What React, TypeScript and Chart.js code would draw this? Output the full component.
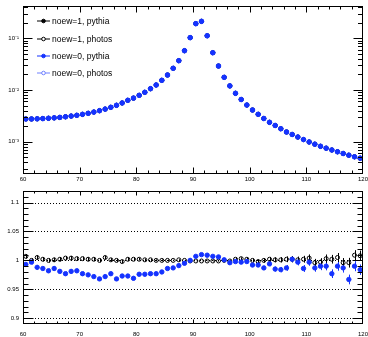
import React, { useEffect, useRef } from "react";
import { Chart, registerables } from "chart.js";

Chart.register(...registerables);

// ---------- data ----------
const massBins = [
  60.5, 61.5, 62.5, 63.5, 64.5, 65.5, 66.5, 67.5, 68.5, 69.5,
  70.5, 71.5, 72.5, 73.5, 74.5, 75.5, 76.5, 77.5, 78.5, 79.5,
  80.5, 81.5, 82.5, 83.5, 84.5, 85.5, 86.5, 87.5, 88.5, 89.5,
  90.5, 91.5, 92.5, 93.5, 94.5, 95.5, 96.5, 97.5, 98.5, 99.5,
  100.5, 101.5, 102.5, 103.5, 104.5, 105.5, 106.5, 107.5, 108.5, 109.5,
  110.5, 111.5, 112.5, 113.5, 114.5, 115.5, 116.5, 117.5, 118.5, 119.5,
];

// normalised mass spectrum (all four samples overlap on the log scale)
const massSpectrum = [
  0.00275, 0.00275, 0.00277, 0.0028, 0.00284, 0.00289, 0.00295, 0.00303, 0.00313, 0.00324,
  0.00338, 0.00354, 0.00374, 0.00398, 0.00427, 0.00463, 0.00506, 0.00561, 0.00632, 0.00697,
  0.00789, 0.00903, 0.0106, 0.0125, 0.0154, 0.0195, 0.0263, 0.0369, 0.0576, 0.103,
  0.192, 0.213, 0.112, 0.0526, 0.0291, 0.0176, 0.012, 0.00863, 0.00655, 0.00512,
  0.0041, 0.00339, 0.00281, 0.00237, 0.00206, 0.00178, 0.00154, 0.00138, 0.00123, 0.0011,
  0.000987, 0.000895, 0.000815, 0.000749, 0.000691, 0.000638, 0.000591, 0.000548, 0.00051, 0.00048,
];

// ratio panel
const ratioNoew1Photos = [
  1.007, 1.0, 1.005, 1.002, 1.0, 1.001, 1.002, 1.004, 1.004, 1.003,
  1.003, 1.002, 1.002, 1.0, 1.005, 1.001, 1.0, 0.998, 1.002, 1.002,
  1.002, 1.001, 1.001, 1.0, 1.0, 1.0, 1.0, 1.001, 1.0, 0.999,
  0.999, 0.999, 0.999, 0.999, 0.999, 1.0, 0.999, 1.002, 1.003, 1.002,
  1.0, 0.998, 1.0, 1.002, 1.001, 1.001, 1.002, 1.002, 1.001, 1.002,
  1.004, 0.996, 0.997, 1.003, 1.002, 1.005, 0.996, 0.996, 1.009, 1.008,
];

const ratioNoew0Pythia = [
  0.993, 0.997, 0.988, 0.986, 0.982, 0.986, 0.981, 0.977, 0.981, 0.982,
  0.977, 0.975, 0.972, 0.968, 0.972, 0.977, 0.968, 0.973, 0.973, 0.969,
  0.976, 0.976, 0.977, 0.977, 0.98, 0.986, 0.987, 0.991, 0.995, 1.0,
  1.007, 1.01, 1.009, 1.007, 1.006, 1.001, 0.996, 0.998, 0.997, 0.998,
  0.992, 0.992, 0.987, 0.994, 0.985, 0.984, 0.987, 1.002, 0.997, 0.986,
  0.997, 0.987, 0.99, 0.99, 0.977, 0.99, 0.987, 0.967, 0.99, 0.984,
];

const ratioErrors = [
  0.0038, 0.0038, 0.0038, 0.0037, 0.0037, 0.0037, 0.0036, 0.0036, 0.0035, 0.0035,
  0.0034, 0.0033, 0.0032, 0.0031, 0.003, 0.0029, 0.0028, 0.0026, 0.0025, 0.0024,
  0.0022, 0.0021, 0.0019, 0.0017, 0.0016, 0.0014, 0.0012, 0.001, 0.0008, 0.0006,
  0.0004, 0.0004, 0.0006, 0.0008, 0.0011, 0.0015, 0.0018, 0.0021, 0.0024, 0.0027,
  0.0031, 0.0034, 0.0037, 0.004, 0.0043, 0.0046, 0.005, 0.0053, 0.0056, 0.0059,
  0.0063, 0.0066, 0.0069, 0.0072, 0.0075, 0.0078, 0.0081, 0.0084, 0.0087, 0.009,
];

const xTickValues = [60, 70, 80, 90, 100, 110, 120];
const logTickValues = [0.001, 0.01, 0.1];
const logTickLabels = ["10\u207B\u00B3", "10\u207B\u00B2", "10\u207B\u00B9"];
const ratioTickValues = [0.9, 0.95, 1, 1.05, 1.1];
const ratioTickLabels = ["0.9", "0.95", "1", "1.05", "1.1"];

const legendEntries = [
  { label: "noew=1, pythia", color: "#000000", filled: true },
  { label: "noew=1, photos", color: "#000000", filled: false },
  { label: "noew=0, pythia", color: "#1432ff", filled: true },
  { label: "noew=0, photos", color: "#6f80ff", filled: false },
];

// ---------- styling ----------
const BLUE = "#1432ff";
const LIGHT_BLUE = "#6f80ff";
const FONT = "'Liberation Sans', Arial, Helvetica, sans-serif";

const pts = (ys: number[]) => massBins.map((x, i) => ({ x, y: ys[i] }));

function range(a: number, b: number, step: number) {
  const out: number[] = [];
  for (let v = a; v <= b + 1e-9; v += step) out.push(Math.round(v * 1e6) / 1e6);
  return out;
}

type FrameCfg = {
  xMajor: number[];
  xMinor: number[];
  yMajor: number[];
  yMinor: number[];
  xMajLen: number;
  xMinLen: number;
  yMajLen: number;
  yMinLen: number;
  grid?: number[];
};

function framePlugin(cfg: FrameCfg) {
  return {
    id: "rootFrame",
    beforeDatasetsDraw(chart: any) {
      const { ctx, chartArea: a, scales } = chart;
      ctx.save();
      if (cfg.grid) {
        ctx.strokeStyle = "#000";
        ctx.lineWidth = 1;
        ctx.setLineDash([1, 2]);
        for (const v of cfg.grid) {
          const py = Math.round(scales.y.getPixelForValue(v)) + 0.5;
          ctx.beginPath();
          ctx.moveTo(a.left, py);
          ctx.lineTo(a.right, py);
          ctx.stroke();
        }
        ctx.setLineDash([]);
      }
      ctx.beginPath();
      ctx.rect(a.left, a.top, a.right - a.left, a.bottom - a.top);
      ctx.clip();
      chart.data.datasets.forEach((ds: any) => {
        if (!ds.errorBars) return;
        ctx.strokeStyle = ds.borderColor;
        ctx.lineWidth = 1;
        ds.data.forEach((p: any, i: number) => {
          const e = ds.errorBars[i];
          const px = Math.round(scales.x.getPixelForValue(p.x)) + 0.5;
          const y1 = scales.y.getPixelForValue(p.y - e);
          const y2 = scales.y.getPixelForValue(p.y + e);
          ctx.beginPath();
          ctx.moveTo(px, y1);
          ctx.lineTo(px, y2);
          ctx.stroke();
        });
      });
      ctx.restore();
    },
    afterDraw(chart: any) {
      const { ctx, chartArea: a, scales } = chart;
      ctx.save();
      ctx.strokeStyle = "#000";
      ctx.lineWidth = 1;
      const L = Math.round(a.left) + 0.5;
      const R = Math.round(a.right) - 0.5;
      const T = Math.round(a.top) + 0.5;
      const B = Math.round(a.bottom) - 0.5;
      const line = (x1: number, y1: number, x2: number, y2: number) => {
        ctx.beginPath();
        ctx.moveTo(x1, y1);
        ctx.lineTo(x2, y2);
        ctx.stroke();
      };
      const xTick = (v: number, len: number) => {
        const px = Math.round(scales.x.getPixelForValue(v)) + 0.5;
        if (px < L - 0.1 || px > R + 0.1) return;
        line(px, B, px, B - len);
        line(px, T, px, T + len);
      };
      const yTick = (v: number, len: number) => {
        const py = Math.round(scales.y.getPixelForValue(v)) + 0.5;
        if (py < T - 0.1 || py > B + 0.1) return;
        line(L, py, L + len, py);
        line(R, py, R - len, py);
      };
      cfg.xMinor.forEach((v) => xTick(v, cfg.xMinLen));
      cfg.xMajor.forEach((v) => xTick(v, cfg.xMajLen));
      cfg.yMinor.forEach((v) => yTick(v, cfg.yMinLen));
      cfg.yMajor.forEach((v) => yTick(v, cfg.yMajLen));
      ctx.strokeRect(L, T, R - L, B - T);
      ctx.restore();
    },
  };
}

const noPad = (s: any) => {
  s.paddingLeft = 0;
  s.paddingRight = 0;
  s.paddingTop = 0;
  s.paddingBottom = 0;
};

export default function App() {
  const topRef = useRef<HTMLCanvasElement>(null);
  const botRef = useRef<HTMLCanvasElement>(null);

  useEffect(() => {
    Chart.defaults.font.family = FONT;
    Chart.defaults.font.size = 6;
    Chart.defaults.color = "#000";

    const xMinor = range(60, 120, 2);
    const logMinor: number[] = [];
    for (let e = -4; e <= -1; e++) {
      for (let k = 2; k <= 9; k++) logMinor.push(k * Math.pow(10, e));
    }

    const top = new Chart(topRef.current as HTMLCanvasElement, {
      type: "scatter",
      data: {
        datasets: [
          {
            label: "noew=0, pythia",
            data: pts(massSpectrum),
            backgroundColor: BLUE,
            borderColor: BLUE,
            borderWidth: 1,
            pointRadius: 2.3,
            order: 0,
          },
          {
            label: "noew=0, photos",
            data: pts(massSpectrum),
            backgroundColor: "rgba(0,0,0,0)",
            borderColor: LIGHT_BLUE,
            borderWidth: 1,
            pointRadius: 2,
            order: 1,
          },
          {
            label: "noew=1, photos",
            data: pts(massSpectrum),
            backgroundColor: "rgba(0,0,0,0)",
            borderColor: "#000",
            borderWidth: 1,
            pointRadius: 2,
            order: 2,
          },
          {
            label: "noew=1, pythia",
            data: pts(massSpectrum),
            backgroundColor: "#000",
            borderColor: "#000",
            borderWidth: 1,
            pointRadius: 2,
            order: 3,
          },
        ] as any,
      },
      options: {
        responsive: false,
        animation: false,
        events: [],
        layout: { padding: { top: 6, right: 2, left: 0, bottom: 0 } },
        plugins: { legend: { display: false }, tooltip: { enabled: false } },
        scales: {
          x: {
            type: "linear",
            min: 60,
            max: 120,
            grid: { display: false, drawTicks: false },
            border: { display: false },
            afterBuildTicks: (s: any) => {
              s.ticks = xTickValues.map((value) => ({ value }));
            },
            ticks: { padding: 2, maxRotation: 0, autoSkip: false },
            afterFit: (s: any) => {
              s.height = 10;
              noPad(s);
            },
          },
          y: {
            type: "logarithmic",
            min: 2.371e-4,
            max: 0.4217,
            grid: { display: false, drawTicks: false },
            border: { display: false },
            afterBuildTicks: (s: any) => {
              s.ticks = logTickValues.map((value) => ({ value }));
            },
            ticks: {
              padding: 4,
              autoSkip: false,
              callback: (v: any) => {
                const i = logTickValues.indexOf(Number(v));
                return i >= 0 ? logTickLabels[i] : "";
              },
            },
            afterFit: (s: any) => {
              s.width = 23;
              noPad(s);
            },
          },
        },
      } as any,
      plugins: [
        framePlugin({
          xMajor: xTickValues,
          xMinor,
          yMajor: logTickValues,
          yMinor: logMinor,
          xMajLen: 6,
          xMinLen: 3,
          yMajLen: 9,
          yMinLen: 4.5,
        }),
      ],
    });

    const bot = new Chart(botRef.current as HTMLCanvasElement, {
      type: "scatter",
      data: {
        datasets: [
          {
            label: "noew=0, pythia",
            data: pts(ratioNoew0Pythia),
            errorBars: ratioErrors,
            backgroundColor: BLUE,
            borderColor: BLUE,
            borderWidth: 1,
            pointRadius: 2.2,
            order: 0,
          },
          {
            label: "noew=1, photos",
            data: pts(ratioNoew1Photos),
            errorBars: ratioErrors,
            backgroundColor: "rgba(0,0,0,0)",
            borderColor: "#000",
            borderWidth: 1,
            pointRadius: 2,
            order: 1,
          },
        ] as any,
      },
      options: {
        responsive: false,
        animation: false,
        events: [],
        layout: { padding: { top: 7, right: 2, left: 0, bottom: 0 } },
        plugins: { legend: { display: false }, tooltip: { enabled: false } },
        scales: {
          x: {
            type: "linear",
            min: 60,
            max: 120,
            grid: { display: false, drawTicks: false },
            border: { display: false },
            afterBuildTicks: (s: any) => {
              s.ticks = xTickValues.map((value) => ({ value }));
            },
            ticks: { padding: 7, maxRotation: 0, autoSkip: false },
            afterFit: (s: any) => {
              s.height = 13;
              noPad(s);
            },
          },
          y: {
            type: "linear",
            min: 0.89,
            max: 1.12,
            grid: { display: false, drawTicks: false },
            border: { display: false },
            afterBuildTicks: (s: any) => {
              s.ticks = ratioTickValues.map((value) => ({ value }));
            },
            ticks: {
              padding: 4,
              autoSkip: false,
              callback: (v: any) => {
                const i = ratioTickValues.indexOf(Number(v));
                return i >= 0 ? ratioTickLabels[i] : "";
              },
            },
            afterFit: (s: any) => {
              s.width = 23;
              noPad(s);
            },
          },
        },
      } as any,
      plugins: [
        framePlugin({
          xMajor: xTickValues,
          xMinor,
          yMajor: ratioTickValues,
          yMinor: range(0.89, 1.12, 0.01),
          xMajLen: 4,
          xMinLen: 2,
          yMajLen: 10,
          yMinLen: 5,
          grid: ratioTickValues,
        }),
      ],
    });

    return () => {
      top.destroy();
      bot.destroy();
    };
  }, []);

  const legendY = [21, 38.7, 56, 73.3];

  return (
    <div
      style={{
        position: "absolute",
        left: 0,
        top: 0,
        width: 368,
        height: 337,
        background: "#fff",
        overflow: "hidden",
      }}
    >
      <canvas
        ref={topRef}
        width={368}
        height={184}
        style={{ position: "absolute", left: 0, top: 0, width: 368, height: 184 }}
      />
      <canvas
        ref={botRef}
        width={368}
        height={153}
        style={{ position: "absolute", left: 0, top: 184, width: 368, height: 153 }}
      />
      {legendEntries.map((e, i) => (
        <div
          key={e.label}
          style={{
            position: "absolute",
            left: 36,
            top: legendY[i] - 6,
            height: 12,
            display: "flex",
            alignItems: "center",
            fontFamily: FONT,
            fontSize: 8.5,
            color: "#000",
            whiteSpace: "nowrap",
          }}
        >
          <svg width={15} height={12} style={{ display: "block" }}>
            <line x1={1} y1={6} x2={14} y2={6} stroke={e.color} strokeWidth={1} />
            <circle
              cx={7.5}
              cy={6}
              r={1.8}
              fill={e.filled ? e.color : "#fff"}
              stroke={e.color}
              strokeWidth={1}
            />
          </svg>
          <span style={{ marginLeft: 1 }}>{e.label}</span>
        </div>
      ))}
    </div>
  );
}
